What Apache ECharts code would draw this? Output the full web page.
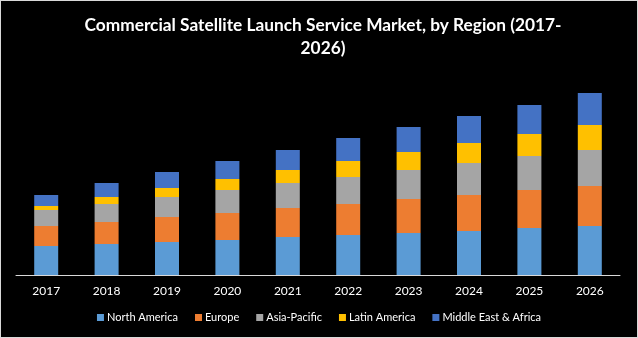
<!DOCTYPE html>
<html><head><meta charset="utf-8">
<script src="https://cdn.jsdelivr.net/npm/echarts@6/dist/echarts.min.js"></script>
<style>html,body{margin:0;padding:0;background:#000;}#c{width:636px;height:336px;border:1px solid #d9d9d9;}</style>
</head><body><div id="c"></div>
<script>
const years = ['2017','2018','2019','2020','2021','2022','2023','2024','2025','2026'];
const northAmerica = [29,31,33,35,38,40,42,44,47,49];
const europe = [20,22,25,27,29,31,34,36,38,40];
const asiaPacific = [16,18,20,23,25,27,29,32,34,36];
const latinAmerica = [4,7,9,11,13,16,18,20,22,25];
const middleEastAfrica = [11,14,16,18,20,23,25,27,29,32];

const names = ['North America','Europe','Asia-Pacific','Latin America','Middle East & Africa'];
const colors = ['#5B9BD5','#ED7D31','#A5A5A5','#FFC000','#4472C4'];
const dataSets = [northAmerica, europe, asiaPacific, latinAmerica, middleEastAfrica];

const chart = echarts.init(document.getElementById('c'));
chart.setOption({
  backgroundColor: '#000',
  animation: false,
  title: {
    text: 'Commercial Satellite Launch Service Market, by Region (2017-\n2026)',
    left: 317, top: 8, textAlign: 'center',
    textStyle: {color: '#fff', fontSize: 17.3, fontWeight: 'bold', fontFamily: 'Lato', lineHeight: 23, align: 'center'}
  },
  legend: {
    bottom: 9, left: 'center',
    itemWidth: 7, itemHeight: 7, itemGap: 17,
    icon: 'rect',
    textStyle: {color: '#fff', fontSize: 11, fontFamily: 'Lato', padding: [0,0,0,-2]},
    data: names
  },
  grid: {left: 15, right: 17, top: 74, bottom: 62},
  xAxis: {
    type: 'category', data: years,
    axisLine: {lineStyle: {color: '#d9d9d9', width: 1}},
    axisTick: {show: false},
    axisLabel: {color: '#fff', fontSize: 12, fontFamily: 'Lato', margin: 10}
  },
  yAxis: {type: 'value', min: 0, max: 200, show: false, splitLine: {show: false}},
  series: dataSets.map((d, i) => ({
    name: names[i], type: 'bar', stack: 'total', data: d,
    barWidth: 24, itemStyle: {color: colors[i]}
  }))
});
</script></body></html>
